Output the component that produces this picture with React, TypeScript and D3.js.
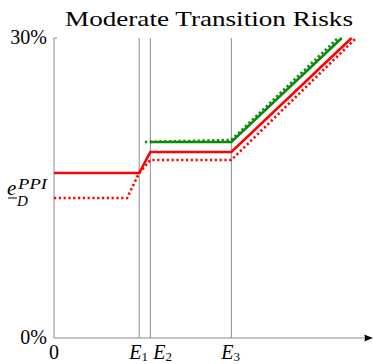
import React from "react";
import * as d3 from "d3";

const W = 373;
const H = 364;

// x positions (arbitrary units 0..100), y in percent
const eTicks = [
  { name: "E", sub: "1", x: 26.7, dx: 0 },
  { name: "E", sub: "2", x: 30.2, dx: 13 },
  { name: "E", sub: "3", x: 55.6, dx: 0 },
];
const yTickLabels = [
  { v: 0, label: "0%" },
  { v: 30, label: "30%" },
];
const redSolid: [number, number][] = [
  [0, 16.5], [26.7, 16.5], [30.2, 18.6], [55.6, 18.6], [93.3, 30],
];
const redDotted: [number, number][] = [
  [0, 14.0], [22.9, 14.0], [26.7, 16.5], [30.2, 17.8], [55.6, 17.8], [94.7, 30],
];
const greenSolid: [number, number][] = [
  [30.2, 19.6], [55.6, 19.6], [90.2, 30],
];
const greenDotted: [number, number][] = [
  [28.5, 19.6], [55.6, 19.8], [89.0, 30],
];
const eLabelValue = 14.0;

const x = d3.scaleLinear().domain([0, 100]).range([54, 373]);
const y = d3.scaleLinear().domain([0, 30]).range([338, 38]);
const line = d3.line<[number, number]>().x((d) => x(d[0])).y((d) => y(d[1]));

const RED = "#ff0000";
const GREEN = "#0a8a0a";
const AX = "#8c8c8c";
const FONT = "'Liberation Serif', 'DejaVu Serif', serif";

export default function App() {
  return (
    <svg width={W} height={H} style={{ position: "absolute", left: 0, top: 0, background: "#fff" }}>
      <text x={209} y={26} textAnchor="middle" fontFamily={FONT} fontSize={22} textLength={288} lengthAdjust="spacingAndGlyphs">
        Moderate Transition Risks
      </text>
      {/* vertical reference lines */}
      {eTicks.map((e, i) => (
        <line key={i} x1={x(e.x)} x2={x(e.x)} y1={y(30)} y2={y(0)} stroke={AX} strokeWidth={1} />
      ))}
      {/* axes */}
      <line x1={x(0)} x2={x(0)} y1={y(0)} y2={y(30)} stroke={AX} strokeWidth={1} />
      <line x1={x(0)} x2={x(0) + 3} y1={y(30)} y2={y(30)} stroke={AX} strokeWidth={1} />
      <line x1={x(0)} x2={366} y1={y(0)} y2={y(0)} stroke={AX} strokeWidth={1} />
      <path d={`M373,${y(0)} L364,${y(0) - 3.5} Q366,${y(0)} 364,${y(0) + 3.5} Z`} fill="#000" />
      {/* series */}
      <path d={line(greenDotted) || ""} fill="none" stroke={GREEN} strokeWidth={2.6} strokeDasharray="2.2,2.6" />
      <path d={line(greenSolid) || ""} fill="none" stroke={GREEN} strokeWidth={2.6} />
      <path d={line(redDotted) || ""} fill="none" stroke={RED} strokeWidth={2.6} strokeDasharray="2.2,2.6" />
      <path d={line(redSolid) || ""} fill="none" stroke={RED} strokeWidth={2.6} />
      {/* y labels */}
      {yTickLabels.map((t, i) => (
        <text key={i} x={47} y={y(t.v) + 6} textAnchor="end" fontFamily={FONT} fontSize={20}>
          {t.label}
        </text>
      ))}
      <g fontFamily={FONT} fontStyle="italic">
        <text x={7} y={y(eLabelValue) - 3} fontSize={21}>e</text>
        <line x1={8} x2={17} y1={y(eLabelValue)} y2={y(eLabelValue)} stroke="#000" strokeWidth={1} />
        <text x={17} y={y(eLabelValue) + 8} fontSize={15}>D</text>
        <text x={18} y={y(eLabelValue) - 9} fontSize={15} textLength={29} lengthAdjust="spacingAndGlyphs">PPI</text>
      </g>
      {/* x labels */}
      <text x={x(0)} y={359} textAnchor="middle" fontFamily={FONT} fontSize={20}>0</text>
      {eTicks.map((e, i) => (
        <text key={i} x={x(e.x) - 10 + e.dx} y={359} fontFamily={FONT} fontSize={20}>
          <tspan fontStyle="italic">{e.name}</tspan>
          <tspan fontSize={13} dy={2}>{e.sub}</tspan>
        </text>
      ))}
    </svg>
  );
}
